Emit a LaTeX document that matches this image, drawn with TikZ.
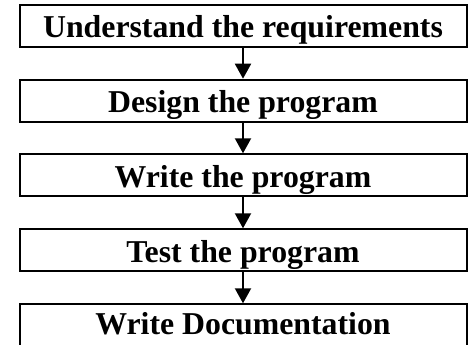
\documentclass[tikz,border=0pt]{standalone}
\usepackage{fontspec}
\setmainfont{Liberation Serif}
\usetikzlibrary{arrows.meta}
\begin{document}
\begin{tikzpicture}[x=1pt,y=1pt]
\tikzstyle{every node}+=[inner sep=0pt]
\tikzstyle{stepbox}=[draw=black, line width=2pt, minimum width=447pt, minimum height=42pt, text height=24pt, text depth=0pt, font=\bfseries\fontsize{31.8}{36}\selectfont]
\tikzstyle{flow}=[black, line width=2pt, -{Triangle[width=16pt,length=15pt]}]
\useasboundingbox (0,0) rectangle (472,-345);
\draw (243,-25.7) node [stepbox] (req) {Understand the requirements};
\draw (243,-100.7) node [stepbox] (design) {Design the program};
\draw (243,-175.3) node [stepbox] (write) {Write the program};
\draw (243,-250.3) node [stepbox] (test) {Test the program};
\draw (243,-328.3) node [stepbox, minimum height=48pt, text depth=11pt] (doc) {Write Documentation};
\draw [flow] (req) -- (design);
\draw [flow] (design) -- (write);
\draw [flow] (write) -- (test);
\draw [flow] (test) -- (doc);
\end{tikzpicture}
\end{document}
